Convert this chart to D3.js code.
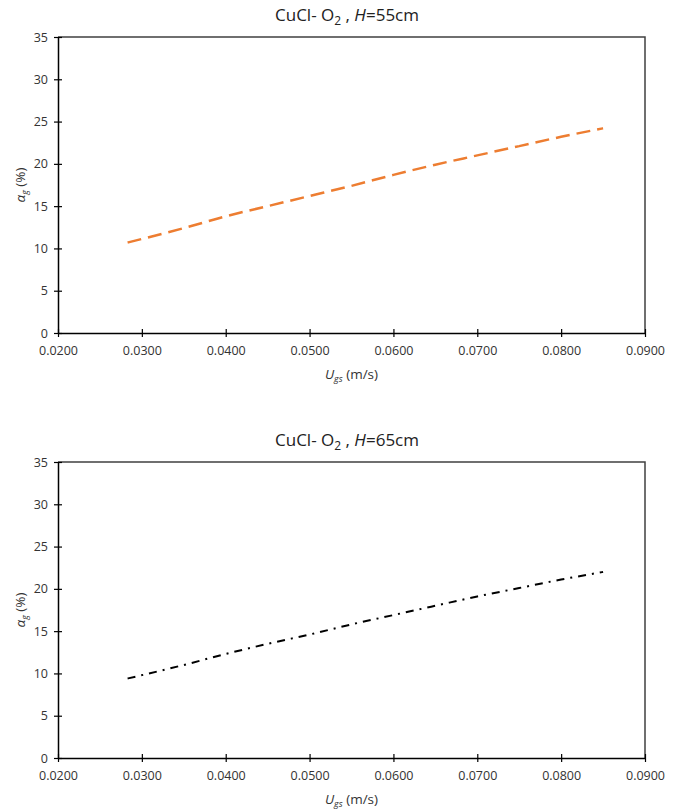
<!DOCTYPE html>
<html>
<head>
<meta charset="utf-8">
<script src="https://cdn.jsdelivr.net/npm/d3@7"></script>
<style>
  body { margin: 0; background: #fff; }
  text { font-family: "Open Sans", "Noto Sans", sans-serif; }
</style>
</head>
<body>
<div id="chart"></div>
<script>
// Set the size of the whole picture
const width = 683;
const height = 811;

// Data (superficial gas velocity vs gas holdup)
const ugs = [0.0283, 0.035, 0.040, 0.045, 0.050, 0.055, 0.060, 0.065, 0.070, 0.075, 0.080, 0.085];
const alpha55 = [10.7, 12.4, 13.8, 15.0, 16.2, 17.4, 18.7, 19.9, 21.0, 22.1, 23.2, 24.2];
const alpha65 = [9.4, 11.0, 12.3, 13.5, 14.6, 15.8, 16.9, 18.0, 19.1, 20.1, 21.1, 22.0];
const heights = ["55cm", "65cm"];

// Tick labels
const xTicks = [0.02, 0.03, 0.04, 0.05, 0.06, 0.07, 0.08, 0.09];
const yTicks = [0, 5, 10, 15, 20, 25, 30, 35];

const svg = d3.select("#chart")
  .append("svg")
  .attr("width", width)
  .attr("height", height);

// Draw one panel
function drawPanel(top, values, label, color, dash, strokeWidth) {
  const margin = { left: 58, right: 38, top: top + 37, bottom: 0 };
  const plotH = 296;

  const x = d3.scaleLinear()
    .domain([0.02, 0.09])
    .range([margin.left, width - margin.right]);

  const y = d3.scaleLinear()
    .domain([0, 35])
    .range([margin.top + plotH, margin.top]);

  const g = svg.append("g");

  // frame on top and right side
  g.append("path")
    .attr("d", "M" + x(0.02) + "," + y(35) + "H" + x(0.09) + "V" + y(0))
    .attr("fill", "none")
    .attr("stroke", "#404040")
    .attr("stroke-width", 1.5);

  // x axis
  const xAxis = g.append("g")
    .attr("transform", "translate(0," + y(0) + ")")
    .call(d3.axisBottom(x).tickValues(xTicks).tickFormat(d3.format(".4f")).tickSizeInner(4).tickSizeOuter(0).tickPadding(9));

  xAxis.selectAll(".tick line").clone().attr("y2", -4);

  // y axis
  const yAxis = g.append("g")
    .attr("transform", "translate(" + x(0.02) + ",0)")
    .call(d3.axisLeft(y).tickValues(yTicks).tickSizeInner(4).tickSizeOuter(0).tickPadding(6));

  yAxis.selectAll(".tick line").clone().attr("x2", 4);

  [xAxis, yAxis].forEach(function(a) {
    a.select(".domain").attr("stroke", "#000").attr("stroke-width", 1.5);
    a.selectAll(".tick line").attr("stroke", "#000").attr("stroke-width", 1.2);
    a.selectAll(".tick text")
      .style("font-size", "12.5px")
      .attr("fill", "#333");
  });

  // the curve
  const line = d3.line()
    .x(function(d, i) { return x(ugs[i]); })
    .y(function(d) { return y(d); })
    .curve(d3.curveMonotoneX);

  g.append("path")
    .datum(values)
    .attr("d", line)
    .attr("fill", "none")
    .attr("stroke", color)
    .attr("stroke-width", strokeWidth)
    .attr("stroke-dasharray", dash);

  // title
  const title = g.append("text")
    .attr("x", 347)
    .attr("y", top + 21)
    .attr("text-anchor", "middle")
    .style("font-size", "17px")
    .attr("fill", "#222");
  title.append("tspan").text("CuCl- O");
  title.append("tspan").attr("dy", 4).style("font-size", "12px").text("2");
  title.append("tspan").attr("dy", -4).text(" , ");
  title.append("tspan").style("font-style", "italic").text("H");
  title.append("tspan").text("=" + label);

  // x axis title
  const xt = g.append("text")
    .attr("x", (x(0.02) + x(0.09)) / 2)
    .attr("y", y(0) + 46)
    .attr("text-anchor", "middle")
    .style("font-size", "13.5px")
    .attr("fill", "#333");
  xt.append("tspan").style("font-style", "italic").text("U");
  xt.append("tspan").attr("dy", 3).style("font-style", "italic").style("font-size", "9px").text("gs");
  xt.append("tspan").attr("dy", -3).text(" (m/s)");

  // y axis title
  const yt = g.append("text")
    .attr("transform", "translate(25," + ((y(0) + y(35)) / 2) + ") rotate(-90)")
    .attr("text-anchor", "middle")
    .style("font-size", "13.5px")
    .attr("fill", "#333");
  yt.append("tspan").style("font-style", "italic").text("α");
  yt.append("tspan").attr("dy", 3).style("font-style", "italic").style("font-size", "9px").text("g");
  yt.append("tspan").attr("dy", -3).text(" (%)");
}

drawPanel(0, alpha55, heights[0], "#ED7D31", "14,7", 2.5);
drawPanel(425, alpha65, heights[1], "#000000", "8,6,2,6", 2);
</script>
</body>
</html>
